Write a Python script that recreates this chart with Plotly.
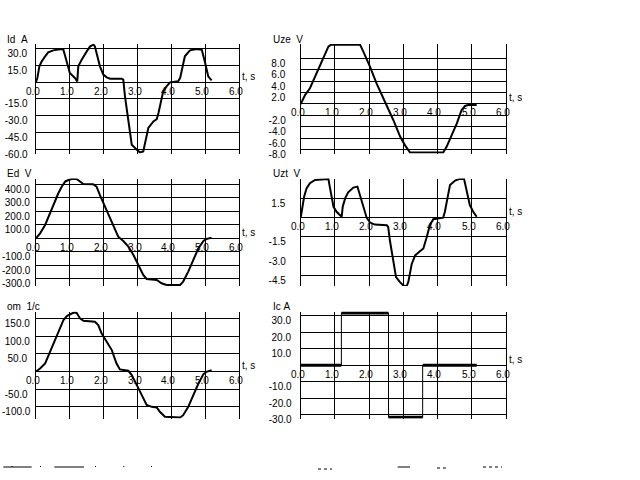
import plotly.graph_objects as go

# ---------------- data ----------------
x_ticks = [0, 1, 2, 3, 4, 5, 6]

# Id, A
t_id = [0, 0.04, 0.1, 0.17, 0.27, 0.36, 0.51, 0.76, 0.81, 0.91, 1.0, 1.15, 1.22, 1.25, 1.35, 1.5, 1.6,
        1.7, 1.74, 1.89, 1.99, 2.09, 2.19, 2.53, 2.58, 2.63, 2.73, 2.83, 2.98, 3.07, 3.17, 3.22, 3.32,
        3.47, 3.57, 3.62, 3.76, 3.86, 3.96, 4.2, 4.26, 4.4, 4.55, 4.75, 4.9, 5.0, 5.09, 5.19]
id_a = [0, 3.6, 14, 18.5, 23, 26.5, 28.3, 29.5, 28.9, 17, 8, 3.6, 0.6, 14, 20, 27.4, 31.9,
        33.4, 31.9, 14, 6.6, 4.2, 3, 3, 2.1, -12.8, -36.7, -56, -60.6, -62.9, -62, -54.5, -41.1,
        -35.2, -33.1, -27.7, -8.3, -3.9, -0.3, 0.6, 3.6, 23, 28.3, 29.5, 28.9, 17, 5.1, 1.5]
ticks_id = [30, 15, -15, -30, -45, -60]

# Uze, V
t_uze = [0, 0.06, 0.13, 0.27, 0.42, 0.52, 0.61, 0.71, 0.81, 0.88, 1.74, 1.83, 2.03, 2.22, 2.42,
         2.57, 2.71, 2.91, 3.05, 3.2, 4.17, 4.27, 4.42, 4.57, 4.71, 4.81, 4.9, 5.15]
uze_v = [0, 0.7, 1.6, 2.75, 4.8, 6.0, 7.1, 8.6, 10.05, 10.35, 10.35, 9.2, 6.5, 3.6, 1.0,
         -1.05, -2.8, -5.7, -7.2, -8.5, -8.5, -7.5, -5.4, -3.4, -1.05, -0.35, -0.18, -0.18]
ticks_uze = [8, 6, 4, 2, -2, -4, -6, -8]

# Ed, V
t_ed = [0, 0.12, 0.27, 0.41, 0.56, 0.66, 0.76, 0.86, 0.96, 1.05, 1.2, 1.3, 1.4, 1.69, 1.79, 1.89,
        2.09, 2.29, 2.43, 2.58, 2.73, 2.88, 3.02, 3.17, 3.27, 3.57, 3.71, 3.86, 4.26, 4.35, 4.5,
        4.65, 4.8, 4.95, 5.04, 5.19]
ed_v = [0, 37, 99, 186, 273, 335, 384, 422, 434, 441, 441, 422, 404, 402, 384, 322,
        211, 99, 12, -20, -62, -124, -198, -273, -303, -310, -335, -347, -347, -322, -248,
        -161, -74, -20, -5, 5]
ticks_ed = [400, 300, 200, 100, -100, -200, -300]

# Uzt, V
t_uzt = [0, 0.04, 0.1, 0.17, 0.27, 0.42, 0.66, 0.81, 0.86, 0.96, 1.05, 1.15, 1.2, 1.23, 1.3, 1.39,
         1.54, 1.66, 1.74, 1.83, 1.93, 2.03, 2.17, 2.52, 2.56, 2.61, 2.71, 2.79, 2.9, 3.0, 3.1,
         3.15, 3.25, 3.35, 3.49, 3.59, 3.69, 3.78, 3.88, 4.17, 4.22, 4.37, 4.52, 4.66, 4.78, 4.86,
         4.95, 5.05, 5.15]
uzt_v = [0, 0.72, 1.63, 2.28, 2.68, 2.94, 3.02, 3.02, 2.28, 0.85, 0.46, 0.2, 0.07, 0.85, 1.5, 1.97,
         2.34, 2.42, 1.76, 0.85, 0, -0.38, -0.54, -0.59, -0.72, -1.76, -3.2, -4.63, -5.0, -5.27, -5.34,
         -5.0, -3.6, -2.94, -2.62, -2.4, -1.5, -0.59, -0.12, 0, 0.46, 2.55, 2.89, 3.02, 3.02, 2.15,
         0.98, 0.46, 0.07]
ticks_uzt = [1.5, -1.5, -3.0, -4.5]

# om, 1/c
t_om = [0, 0.12, 0.27, 0.41, 0.56, 0.71, 0.81, 0.91, 1.0, 1.1, 1.2, 1.3, 1.4, 1.74, 1.84, 1.94,
        2.09, 2.24, 2.38, 2.48, 2.73, 2.83, 2.98, 3.12, 3.27, 3.42, 3.57, 3.66, 3.81, 4.26, 4.35,
        4.5, 4.65, 4.8, 4.95, 5.04, 5.19]
om_v = [0, 8.5, 22.6, 55.7, 88.7, 121.7, 145, 156.6, 162, 166, 166, 150, 143, 140.6, 131, 107.5,
        84, 60.4, 22.6, 5.7, 1.9, -10.4, -38.7, -67, -95, -100, -102, -114, -128, -130, -123.6,
        -100, -67, -34, -7.5, -1, 3.8]
ticks_om = [150, 100, 50, -50, -100]

# Ic, A (step signal)
t_ic = [0, 1.19, 2.57, 3.57, 5.15]
ic_a = [0, 31.5, -31.5, 0, 0]
ticks_ic = [30, 20, 10, -10, -20, -30]

panel_titles = ["Id\u00a0\u00a0A", "Uze\u00a0\u00a0V", "Ed\u00a0\u00a0V",
                "Uzt\u00a0\u00a0V", "om\u00a0\u00a01/c", "Ic\u00a0A"]
axis_unit = "t, s"

# ---------------- layout helpers ----------------
W, H = 640, 480


def fx(p):
    return p / W


def fy(p):
    return 1 - p / H


cols = [(36, 239), (300.7, 505.7)]
rows = [(44, 153.5), (178.5, 286), (311.5, 418.5)]
title_x = [5, 271]

panels = [
    dict(t=t_id, v=id_a, ticks=ticks_id, rng=[-63.9, 34.0], col=0, row=0, lx=0),
    dict(t=t_uze, v=uze_v, ticks=ticks_uze, rng=[-8.67, 10.5], col=1, row=0, lx=260.5),
    dict(t=t_ed, v=ed_v, ticks=ticks_ed, rng=[-355, 445], col=0, row=1, lx=0),
    dict(t=t_uzt, v=uzt_v, ticks=ticks_uzt, rng=[-5.32, 3.05], col=1, row=1, lx=261),
    dict(t=t_om, v=om_v, ticks=ticks_om, rng=[-133, 169.5], col=0, row=2, lx=0),
    dict(t=t_ic, v=ic_a, ticks=ticks_ic, rng=[-32.2, 32.4], col=1, row=2, lx=264, step=True),
]

FONT = "Liberation Sans, Arial, sans-serif"
fig = go.Figure()
annotations = []
layout = dict(
    width=W, height=H, autosize=False,
    margin=dict(l=0, r=0, t=0, b=0, pad=0),
    paper_bgcolor="white", plot_bgcolor="white",
    showlegend=False,
    font=dict(family=FONT, size=10, color="black"),
)

for i, p in enumerate(panels, start=1):
    xn = "x" if i == 1 else f"x{i}"
    yn = "y" if i == 1 else f"y{i}"
    c0, c1 = cols[p["col"]]
    r0, r1 = rows[p["row"]]
    layout["xaxis" if i == 1 else f"xaxis{i}"] = dict(
        domain=[fx(c0), fx(c1)], range=[0, 6], anchor=yn,
        tickvals=x_ticks, showticklabels=False, ticks="",
        showgrid=True, gridcolor="black", gridwidth=1,
        zeroline=False, showline=False, fixedrange=True,
    )
    layout["yaxis" if i == 1 else f"yaxis{i}"] = dict(
        domain=[fy(r1), fy(r0)], range=p["rng"], anchor=xn,
        tickvals=p["ticks"], showticklabels=False, ticks="",
        showgrid=True, gridcolor="black", gridwidth=1,
        zeroline=True, zerolinecolor="black", zerolinewidth=1,
        showline=True, mirror=True, linecolor="black", linewidth=1,
        fixedrange=True,
    )

    if p.get("step"):
        # thin vertical transitions
        fig.add_trace(go.Scatter(x=p["t"], y=p["v"], mode="lines",
                                 line=dict(color="black", width=1, shape="hv"),
                                 xaxis=xn, yaxis=yn, hoverinfo="skip"))
        # thick level segments
        sx, sy = [], []
        for k in range(len(p["t"]) - 1):
            sx += [p["t"][k], p["t"][k + 1], None]
            sy += [p["v"][k], p["v"][k], None]
        fig.add_trace(go.Scatter(x=sx, y=sy, mode="lines",
                                 line=dict(color="black", width=3),
                                 xaxis=xn, yaxis=yn, hoverinfo="skip"))
    else:
        fig.add_trace(go.Scatter(x=p["t"], y=p["v"], mode="lines",
                                 line=dict(color="black", width=2),
                                 xaxis=xn, yaxis=yn, hoverinfo="skip"))

    # panel title
    annotations.append(dict(text=panel_titles[i - 1], xref="paper", yref="paper",
                            x=fx(title_x[p["col"]]), y=fy(r0 - 5),
                            xanchor="left", yanchor="middle", showarrow=False))
    # y tick labels (fixed-width formatted, left aligned)
    for v in p["ticks"]:
        annotations.append(dict(text=f"{v:6.1f}".replace(" ", "\u00a0"),
                                xref="paper", yref=yn, x=fx(p["lx"]), y=v,
                                xanchor="left", yanchor="middle", yshift=-5,
                                showarrow=False))
    # x tick labels along the zero line
    for tv in x_ticks:
        annotations.append(dict(text=f"{tv:.1f}", xref=xn, yref=yn, x=tv, y=0,
                                xanchor="center", yanchor="middle", xshift=-3, yshift=-9,
                                showarrow=False))
    # axis unit
    annotations.append(dict(text=axis_unit, xref=xn, yref=yn, x=6, y=0,
                            xanchor="left", yanchor="middle", xshift=1, yshift=6,
                            showarrow=False))

# faint status-line remnants at the bottom of the screen
deco = [(3.3, 31.7, 467, "solid"), (54.3, 84, 467, "solid"), (397.7, 410, 467, "solid"),
        (318, 332, 469, "dot"), (437, 449, 468, "dot"), (483, 502, 467, "dot")]
shapes = [dict(type="line", xref="paper", yref="paper", x0=fx(a), x1=fx(b), y0=fy(y), y1=fy(y),
               line=dict(color="black", width=1, dash=d)) for a, b, y, d in deco]
for xd in (11.7, 40, 95, 123.3, 151):
    shapes.append(dict(type="line", xref="paper", yref="paper", x0=fx(xd), x1=fx(xd + 1),
                       y0=fy(466.5), y1=fy(466.5), line=dict(color="black", width=1)))

layout["annotations"] = annotations
layout["shapes"] = shapes
fig.update_layout(**layout)
fig.write_html("out.html", config={"displayModeBar": False},
               post_script="document.body.style.margin='0';")
